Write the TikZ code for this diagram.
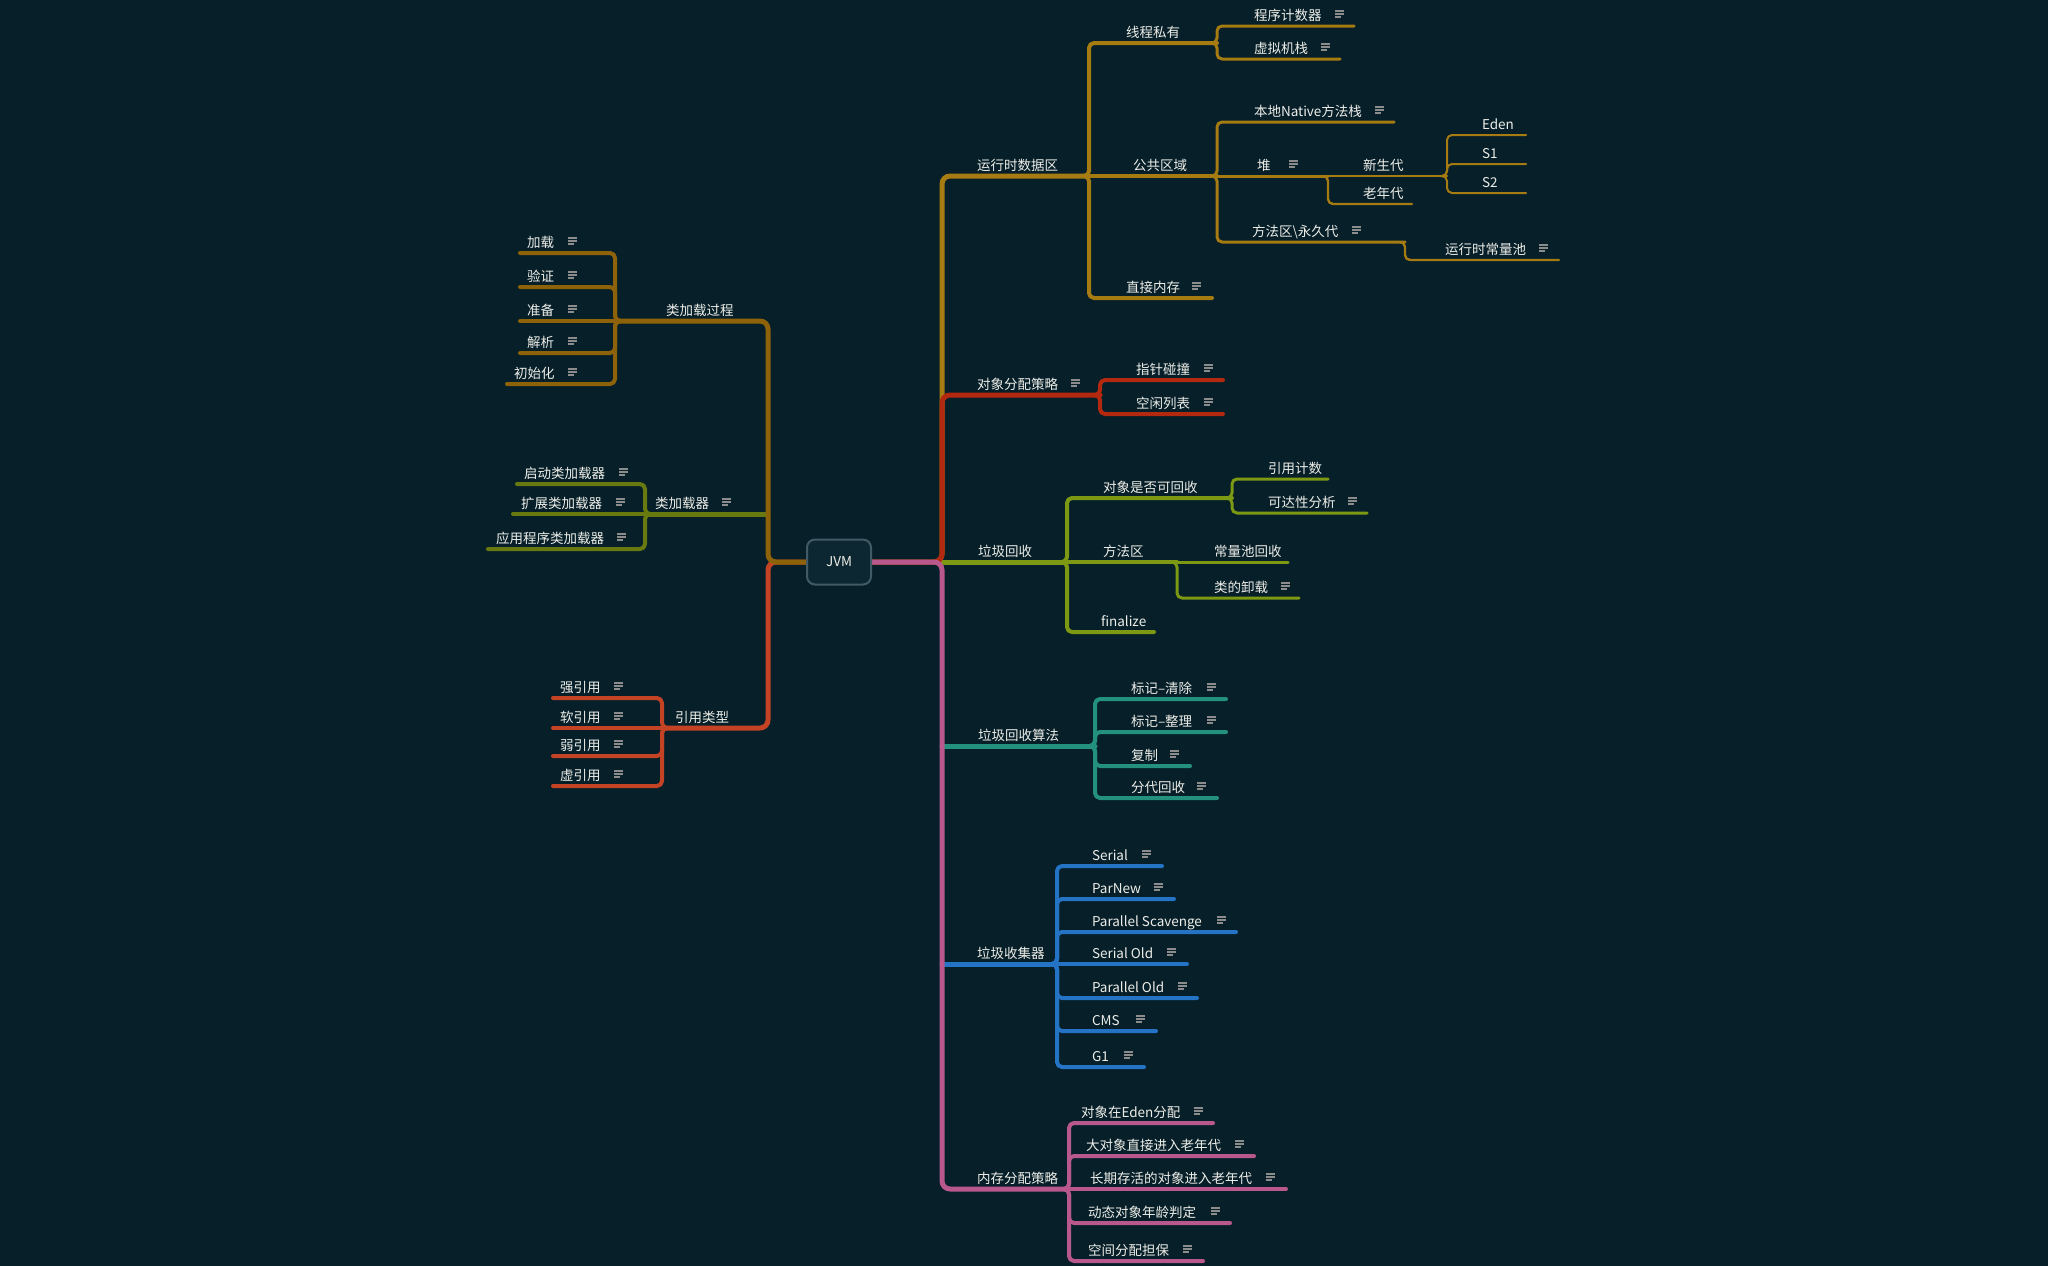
\documentclass[tikz,border=0pt]{standalone}
\usepackage{fontspec}
\newfontfamily\cjk{Noto Sans CJK SC}

\definecolor{bg}{HTML}{061F29}
\definecolor{rootf}{HTML}{0C2731}
\definecolor{rootb}{HTML}{425A66}
\definecolor{txt}{HTML}{EEEEE8}
\definecolor{notec}{HTML}{8C8C8C}
\definecolor{cGold}{HTML}{A57B12}
\definecolor{cBrown}{HTML}{8E6208}
\definecolor{cOlive}{HTML}{687A0F}
\definecolor{cRef}{HTML}{C44324}
\definecolor{cRed}{HTML}{B3290F}
\definecolor{cGreen}{HTML}{7D9913}
\definecolor{cTeal}{HTML}{23917E}
\definecolor{cBlue}{HTML}{2473C5}
\definecolor{cPink}{HTML}{B8588C}

\pgfdeclarelayer{bgfill}
\pgfdeclarelayer{lines}
\pgfsetlayers{bgfill,lines,main}

\tikzset{
  bar/.style={shape=rectangle, inner sep=0pt, outer sep=0pt, minimum height=0pt, draw=none},
  lbl/.style={anchor=base west, inner sep=0pt, outer sep=0pt, text=txt,
              font=\cjk\fontsize{13.5}{16}\selectfont},
  rootnode/.style={draw=rootb, fill=rootf, line width=2pt, rounded corners=8pt,
              minimum width=64pt, minimum height=45pt, inner sep=0pt, text=txt,
              font=\cjk\fontsize{13.5}{16}\selectfont},
  link/.style={line cap=round, line join=round, rounded corners=5pt},
  trunk/.style={line cap=round, line join=round, rounded corners=8pt, line width=5pt},
  w1/.style={line width=5pt},
  w2/.style={line width=4pt},
  w3/.style={line width=3pt},
  w4/.style={line width=2.4pt},
  w5/.style={line width=2pt},
  noteicon/.pic={
    \draw[draw=notec, line width=1.7pt] (0,-3) -- (9,-3) (0,0) -- (9,0) (0,3) -- (5.5,3);
  },
}

% topic: name, line start x, line end x, line y, text x, text, note icon x (optional)
\newcommand{\topic}[7]{%
  \node[bar, minimum width={#3-#2}] (#1) at ({(#2+#3)/2},#4) {};
  \node[lbl] (#1-t) at (#5,#4-6) {#6};
  \if\relax\detokenize{#7}\relax\else\pic at (#7-2,#4-12) {noteicon};\fi
}
% right-hand links: bent and straight
\newcommand{\rlink}[3]{\draw[link,#3] (#1.east) ++(-6,0) -- (#1.east) |- (#2.east);}
\newcommand{\rstr}[3]{\draw[link,#3] (#1.east) -- (#2.east);}
% left-hand links: bent and straight
\newcommand{\llink}[3]{\draw[link,#3] (#1.west) ++(6,0) -- (#1.west) |- (#2.west);}
\newcommand{\lstr}[3]{\draw[link,#3] (#1.west) -- (#2.west);}

\begin{document}
\begin{tikzpicture}[x=1pt, y=-1pt]
\begin{pgfonlayer}{bgfill}
\fill[bg] (0,0) rectangle (2048,1266);
\end{pgfonlayer}
\useasboundingbox (0,0) rectangle (2048,1266);

% root
\node[rootnode] (JVM) at (839,562) {JVM};
\coordinate (rtrunk) at (942,562);
\coordinate (ltrunk) at (768,562);

% ---------- right side topics ----------
\topic{rda}{942}{1089}{176}{977}{运行时数据区}{}
\topic{oas}{942}{1100}{395}{977}{对象分配策略}{1073}
\topic{gc}{942}{1067}{562}{978}{垃圾回收}{}
\topic{gca}{942}{1095}{746}{978}{垃圾回收算法}{}
\topic{gcc}{942}{1057}{964}{977}{垃圾收集器}{}
\topic{mas}{942}{1069}{1189}{977}{内存分配策略}{}

\topic{tp}{1089}{1217}{43}{1126}{线程私有}{}
\topic{pa}{1089}{1217}{176}{1133}{公共区域}{}
\topic{dm}{1089}{1212}{298}{1126}{直接内存}{1194}
\topic{pc}{1217}{1354}{26}{1254}{程序计数器}{1337}
\topic{vms}{1217}{1340}{59}{1254}{虚拟机栈}{1323}
\topic{nms}{1217}{1394}{122}{1254}{本地Native方法栈}{1377}
\topic{heap}{1217}{1328}{176}{1257}{堆}{1291}
\topic{ma}{1217}{1405}{242}{1252}{方法区\textbackslash 永久代}{1354}
\topic{rcp}{1405}{1559}{260}{1445}{运行时常量池}{1541}
\topic{yg}{1328}{1447}{176}{1363}{新生代}{}
\topic{og}{1328}{1412}{204}{1363}{老年代}{}
\topic{eden}{1447}{1526}{135}{1482}{Eden}{}
\topic{sa}{1447}{1526}{164}{1482}{S1}{}
\topic{sb}{1447}{1526}{193}{1482}{S2}{}

\topic{pb}{1100}{1223}{380}{1136}{指针碰撞}{1206}
\topic{fl}{1100}{1223}{414}{1136}{空闲列表}{1206}

\topic{orc}{1067}{1232}{498}{1103}{对象是否可回收}{}
\topic{mag}{1067}{1177}{562}{1103}{方法区}{}
\topic{fin}{1067}{1154}{632}{1101}{finalize}{}
\topic{rc}{1232}{1328}{479}{1268}{引用计数}{}
\topic{ra}{1232}{1367}{513}{1268}{可达性分析}{1350}
\topic{cpr}{1177}{1288}{562}{1214}{常量池回收}{}
\topic{cu}{1177}{1299}{598}{1214}{类的卸载}{1283}

\topic{msw}{1095}{1226}{699}{1131}{标记–清除}{1209}
\topic{mcp}{1095}{1226}{732}{1131}{标记–整理}{1209}
\topic{cpy}{1095}{1190}{766}{1131}{复制}{1172}
\topic{gen}{1095}{1217}{798}{1131}{分代回收}{1199}

\topic{serial}{1057}{1162}{866}{1092}{Serial}{1144}
\topic{parnew}{1057}{1174}{899}{1092}{ParNew}{1156}
\topic{pscav}{1057}{1236}{932}{1092}{Parallel Scavenge}{1219}
\topic{sold}{1057}{1187}{964}{1092}{Serial Old}{1169}
\topic{pold}{1057}{1197}{998}{1092}{Parallel Old}{1180}
\topic{cms}{1057}{1156}{1031}{1092}{CMS}{1138}
\topic{gone}{1057}{1144}{1067}{1092}{G1}{1126}

\topic{edn}{1069}{1213}{1123}{1081}{对象在Eden分配}{1196}
\topic{big}{1069}{1254}{1156}{1086}{大对象直接进入老年代}{1237}
\topic{lng}{1069}{1286}{1189}{1090}{长期存活的对象进入老年代}{1268}
\topic{dyn}{1069}{1230}{1223}{1088}{动态对象年龄判定}{1213}
\topic{guar}{1069}{1203}{1261}{1088}{空间分配担保}{1185}

% ---------- left side topics ----------
\topic{clp}{615}{768}{321}{666}{类加载过程}{}
\topic{cl}{645}{768}{514}{655}{类加载器}{724}
\topic{rt}{662}{768}{728}{675}{引用类型}{}

\topic{load}{520}{615}{253}{527}{加载}{570}
\topic{ver}{520}{615}{287}{527}{验证}{570}
\topic{prep}{520}{615}{321}{527}{准备}{570}
\topic{res}{520}{615}{353}{527}{解析}{570}
\topic{init}{507}{615}{384}{514}{初始化}{570}

\topic{bcl}{517}{645}{484}{524}{启动类加载器}{621}
\topic{ecl}{513}{645}{514}{521}{扩展类加载器}{618}
\topic{acl}{488}{645}{549}{496}{应用程序类加载器}{619}

\topic{sr}{553}{662}{698}{560}{强引用}{616}
\topic{soft}{553}{662}{728}{560}{软引用}{616}
\topic{weak}{553}{662}{756}{560}{弱引用}{616}
\topic{phr}{553}{662}{786}{560}{虚引用}{616}

\begin{pgfonlayer}{lines}
% ---------- runtime data area ----------
\draw[trunk, cGold] (JVM.east) -- (rtrunk) |- (rda.east);
\rlink{rda}{tp}{w2,cGold}
\rstr{rda}{pa}{w2,cGold}
\rlink{rda}{dm}{w2,cGold}
\rlink{tp}{pc}{w3,cGold}
\rlink{tp}{vms}{w3,cGold}
\rlink{pa}{nms}{w3,cGold}
\rstr{pa}{heap}{w3,cGold}
\rlink{pa}{ma}{w3,cGold}
\rlink{ma}{rcp}{w4,cGold}
\rstr{heap}{yg}{w4,cGold}
\rlink{heap}{og}{w4,cGold}
\rlink{yg}{eden}{w5,cGold}
\rlink{yg}{sa}{w5,cGold}
\rlink{yg}{sb}{w5,cGold}

% ---------- garbage collection ----------
\draw[link, w1, cGreen] (rtrunk) -- (gc.east);
\rlink{gc}{orc}{w2,cGreen}
\rstr{gc}{mag}{w2,cGreen}
\rlink{gc}{fin}{w2,cGreen}
\rlink{orc}{rc}{w3,cGreen}
\rlink{orc}{ra}{w3,cGreen}
\rstr{mag}{cpr}{w3,cGreen}
\rlink{mag}{cu}{w3,cGreen}

% ---------- collection algorithms ----------
\draw[link, w1, cTeal] (rtrunk |- gca.west) -- (gca.east);
\rlink{gca}{msw}{w2,cTeal}
\rlink{gca}{mcp}{w2,cTeal}
\rlink{gca}{cpy}{w2,cTeal}
\rlink{gca}{gen}{w2,cTeal}

% ---------- collectors ----------
\draw[link, w1, cBlue] (rtrunk |- gcc.west) -- (gcc.east);
\rlink{gcc}{serial}{w2,cBlue}
\rlink{gcc}{parnew}{w2,cBlue}
\rlink{gcc}{pscav}{w2,cBlue}
\rstr{gcc}{sold}{w2,cBlue}
\rlink{gcc}{pold}{w2,cBlue}
\rlink{gcc}{cms}{w2,cBlue}
\rlink{gcc}{gone}{w2,cBlue}

% ---------- object allocation ----------
\draw[trunk, cRed] (JVM.east) -- (rtrunk) |- (oas.east);
\rlink{oas}{pb}{w2,cRed}
\rlink{oas}{fl}{w2,cRed}

% ---------- memory allocation ----------
\draw[trunk, cPink] (JVM.east) -- (rtrunk) |- (mas.east);
\rlink{mas}{edn}{w2,cPink}
\rlink{mas}{big}{w2,cPink}
\rstr{mas}{lng}{w2,cPink}
\rlink{mas}{dyn}{w2,cPink}
\rlink{mas}{guar}{w2,cPink}

% ---------- reference types ----------
\draw[trunk, cRef] (JVM.west) -- (ltrunk) |- (rt.west);
\llink{rt}{sr}{w2,cRef}
\lstr{rt}{soft}{w2,cRef}
\llink{rt}{weak}{w2,cRef}
\llink{rt}{phr}{w2,cRef}

% ---------- class loaders ----------
\draw[link, w1, cOlive] (ltrunk |- cl.east) -- (cl.west);
\llink{cl}{bcl}{w2,cOlive}
\lstr{cl}{ecl}{w2,cOlive}
\llink{cl}{acl}{w2,cOlive}

% ---------- class loading process ----------
\draw[trunk, cBrown] (JVM.west) -- (ltrunk) |- (clp.west);
\llink{clp}{load}{w2,cBrown}
\llink{clp}{ver}{w2,cBrown}
\lstr{clp}{prep}{w2,cBrown}
\llink{clp}{res}{w2,cBrown}
\llink{clp}{init}{w2,cBrown}
\end{pgfonlayer}
\end{tikzpicture}
\end{document}
